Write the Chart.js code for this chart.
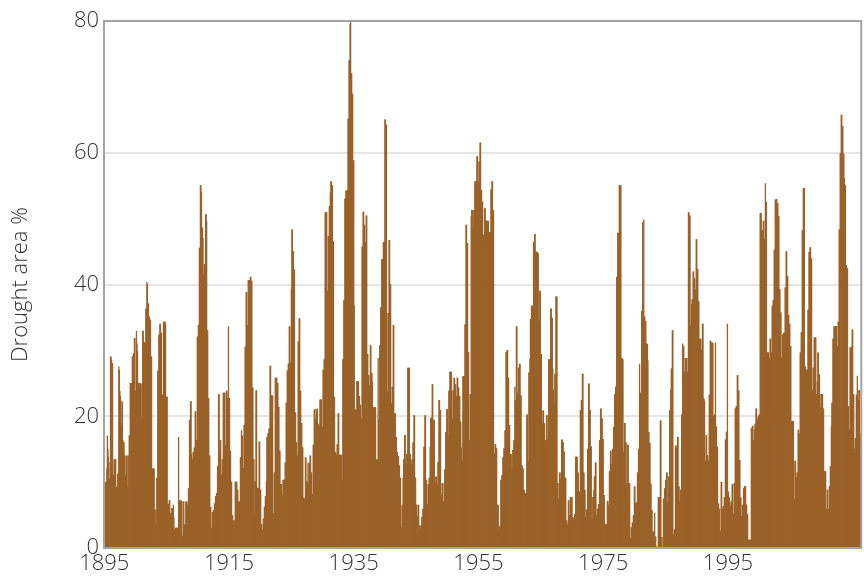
<!DOCTYPE html>
<html><head><meta charset="utf-8">
<script src="https://cdn.jsdelivr.net/npm/chart.js@4.4.1/dist/chart.umd.min.js"></script>
<style>html,body{margin:0;padding:0;background:#fff}canvas{display:block}</style>
</head><body>
<canvas id="c" width="864" height="579"></canvas>
<script>
const startYear = 1895;
const tickYears = [1895, 1915, 1935, 1955, 1975, 1995];
const yTicks = [0, 20, 40, 60, 80];
const yTitle = 'Drought area %';

// Monthly drought area (%), one row per year
const drought1890s = [
9.7,9.7,10,9.7,10,12,17,15,13.8,13,10.3,10.5,
29,29,28.5,28,28,11,11,13.4,13.4,13.4,13.4,9.2,
9.2,9.2,11.2,11.2,27.5,27,23.8,23,19,18.5,22.3,22,
16.3,16,16,14,14,11,11,14,14,9.2,9.2,14,
17,17,25,25,25,25,29,29,29.5,29.5,31.8,31.8];
const drought1900s = [
23.8,23.8,32.9,31,29.8,25,25,25,24.5,25,25,24.8,
19.8,19.8,32.9,32.9,31.2,31.2,31,31,36.3,36.3,40.3,40,
37.2,37,35.2,35,34.6,34.6,29,29,12,12,12,12,
12,5.8,5.8,3.5,3.5,10.6,10.6,26.9,26.9,32.3,32.3,34,
34,32.6,32.6,23.2,23.2,22.6,34.3,34.3,34.3,34.3,34,22.9,
22.9,22.9,6.6,6.6,6.6,7.2,7.2,5.2,5.2,5.2,6,6,
3.9,6.5,4.5,2.8,2.8,3,3,3,3,3,3,16.8,
7.2,7,7.2,7,7.2,7,1.8,1.8,7,7,3.5,3.5,
3.5,7,7,7,6.5,6.5,9,9,19.4,19.4,22.2,22.2,
14.2,13.4,13.4,14.5,14.5,15.2,15.2,20.7,20.7,16.3,16.3,32];
const drought1910s = [
32,33.8,33.8,45.5,45.5,55,55,54,48.6,48.6,47,41.6,
41.6,43,43,50.6,50.6,49.6,33,33,22.7,22.7,14,14,
6.2,6.2,3,3,5.4,5.4,5.7,5.7,6.7,6.7,7.8,7.8,
8.3,8.3,12.4,12.4,23.3,23.3,14.7,16.3,16.3,11.1,11.1,13.4,
13.4,23.5,23.5,23.5,23.5,15.5,15.5,23.8,23.8,22.7,22.7,33.6,
22.7,22.7,14.7,14.7,10,10,4.9,4.9,4.1,4.1,4.1,4.1,
10,10,10,10,8.8,8.8,7,7,7,7,13.7,13.7,
17.8,17,17,12.1,12.1,18.6,18.6,30.5,30.5,38.8,38.8,33.8,
33.8,40.6,40.6,40.6,40.6,41.1,41.1,40.5,40.5,24.3,24.3,13.4,
13.4,4.9,10.1,10.1,23.9,23.9,9.1,9.1,9,9,16.1,16.1];
const drought1920s = [
8.8,8.8,3.6,3.6,2.8,2.8,4.4,4.4,6.2,6.2,7.8,7.8,
10.1,16.8,16.8,17.4,17.4,18.1,18.1,27.6,27.6,23.1,23.1,23.1,
23.1,5.2,5.2,11.4,11.4,25.8,25.8,25.8,25.8,25,25,21.4,
21.4,14.7,14.7,9.6,9.6,9.6,8,8,10.3,10.3,10.3,10.3,
12.9,12.9,22,22,26.9,26.9,27.9,27.9,33.6,33.6,28.1,28.1,
39.3,48.3,48.3,45,45,42.2,42.2,20.5,20.5,16,16,14,
14,31.3,31.3,34.8,34.8,23.8,23.8,18.9,18.9,15.2,15.2,7.6,
7.6,7.4,7.4,13.7,13.7,10.1,10.1,9.8,12.9,9.8,12.8,12.8,
14,14,11.4,11.4,8.1,8.1,15.6,15.6,21,21,19.6,19.6,
21,21,21.1,18.8,18.8,18.5,18.5,22.5,22.5,22.5,22.5,18.3];
const drought1930s = [
18.3,27,27,28.6,28.6,50.9,50.9,50.9,50.9,39,39,47.3,
47.3,51.8,51.8,53.9,55.6,55.6,55,55,46.5,46.5,22.9,22.9,
14.5,14.5,14.1,14.1,15.7,15.7,20.4,20.4,14.1,14.1,14.1,14.1,
14.1,10.3,10.3,28.6,28.6,37.6,37.6,53,53,54.2,54.2,54.2,
54.2,65.1,65.1,74,74,79.5,80,72,72,68.9,68.9,58.8,
58.8,36.8,21,21,20.8,20.8,25.3,25.3,25.3,25.3,23,23,
21.7,21.7,19.6,19.6,45.7,45.7,51,51,49,49,46.4,46.4,
50.4,50.4,29.4,29.4,26.2,26.2,24.6,24.6,30.7,30.7,26.5,26.5,
25.2,21.3,21.3,21.3,21.3,21.3,21.3,6.2,13.4,13.4,13.4,28.8,
19.4,19.4,30.7,30.7,36.5,36.5,43.8,43.8,43.8,46.4,46.4,46.4];
const drought1940s = [
65,65,64.2,64.2,23.7,23.7,35.6,35.6,46.7,46.7,40,40,
21.9,21.9,24.4,24.4,33.8,33.8,20.4,20.4,20.4,16.8,16.8,14.5,
14.5,13.9,13.9,12.5,12.5,10.6,10.6,3.1,3.1,6.5,6.5,10.6,
13.4,13.4,17.1,17.1,12.6,12.6,14.2,14.2,27.3,27.3,27.3,27.3,
14.2,14.2,12.6,12.6,13.4,13.4,16,16,20.1,20.1,10.6,10.6,
6.5,6.5,4.8,4.8,6.5,6.5,3.4,2.8,2.8,3.4,3.4,4.7,
4.7,5.9,5.9,15.3,15.3,20.1,20.1,10.3,10.3,6.6,6.6,9.6,
9.6,10.6,10.6,15.3,19.7,19.7,19.7,24.8,24.8,16.3,19.4,19.4,
9.8,9.8,10.8,10.8,9.6,9.6,13,13,22.4,22.4,20.9,20.9,
8,8,9.8,9.8,7,7,9.8,11.9,11.9,17.5,17.5,21];
const drought1950s = [
21,17.1,17.1,23.8,23.8,26.7,26.7,26.7,26.7,19.6,19.6,23.9,
23.9,25.8,25.8,24.8,24.8,23,23,25.8,25.8,24.3,24.3,23,
23,19.1,19.1,15.2,13.2,13.2,26,26,26,26,33.9,33.9,
49,49,46.2,46.2,29.7,29.7,16.3,16.3,23.3,23.3,50.3,51.3,
51.3,48.5,48.5,51.2,51.2,55.6,55.6,55.6,55.6,59.4,59.4,55.6,
55.6,58.6,58.6,61.5,61.5,54.3,54.3,52.5,52.5,47.5,47.5,46.2,
51.5,51.5,49.6,49.6,49.6,49.6,49.6,49.6,47.9,47.9,47.9,47.9,
54.4,54.4,55.6,55.6,51.2,51.2,14.2,14.2,15.7,15.7,15.1,15.1,
6.5,6.5,6.5,2.8,2.8,3.3,3.3,10.3,10.3,11,11,13.7,
13.7,15.1,15.1,17.8,17.8,29.7,29.7,30,30,25.8,25.8,18.6];
const drought1960s = [
18.6,14.2,14.2,14.2,12.1,12.1,14.8,14.8,16.3,16.3,24.4,22.4,
22.4,33.6,33.6,23.5,23.5,27.3,27.3,27.9,27.9,23.1,23.1,12.5,
12.5,12,12,8.8,8.8,8.3,8.3,8.3,8.3,20.2,20.2,13.1,
13.1,26.6,26.6,28.7,34.7,34.7,36.7,36.7,36.7,36.7,46.4,46.4,
47.6,47.6,44.9,44.9,44.9,44.9,44.7,44.7,34.4,34.4,39,39,
29.4,29.4,18.9,18.9,20.8,20.8,18.9,18.9,16.3,16.3,16.3,20.1,
20.1,16.5,16.5,28.6,28.6,28.6,28.6,36.3,36.3,34.9,34.9,27.2,
24,21.7,21.7,26.4,26.4,38.1,38.1,38.1,9.8,9.8,7.4,7.4,
11.4,11.4,10.5,10.5,16.4,16.4,16,16,14.6,14.6,10.6,10.6,
10.6,4.1,4.1,3.5,3.5,7.2,7.2,4.9,4.9,7.7,7.7,7.7];
const drought1970s = [
7.7,4.6,4.6,4.1,4.1,5.1,5.1,13.8,13.8,13.8,13.8,11.4,
11.4,8.5,8.5,7.1,20.9,20.9,22.4,22.4,26.4,26.4,11.4,11.4,
8.8,8.8,4.6,4.6,5.8,5.8,15,15,24.9,24.9,20.9,20.9,
15.4,15.4,4.4,4.4,7.7,7.7,8.8,10.8,10.8,12.9,12.9,4.9,
4.9,5.9,5.9,6.6,6.6,16.3,16.3,21.1,21.1,19.6,19.6,16.5,
16.5,8,8,3.5,3.5,3.6,3.6,3.6,7.1,7.1,6.5,6.5,
11.6,11.6,14.7,14.7,12.6,12.6,15,15,18.3,18.3,23.3,23.3,
24.4,24.4,41.1,41.1,47.8,47.8,46.5,55,55,55,55,28.8,
28.8,28.6,28.6,14.5,14.5,18.9,18.9,16,16,9.6,9.6,15.6,
15.6,9.8,9.8,9.8,1.5,1.5,3.1,3.1,3.8,3.8,4.9,4.9];
const drought1980s = [
9.3,9.3,6.8,6.8,6.9,6.9,11.4,11.4,15,15,27.9,23.5,
23.5,23.5,35.9,35.9,49.4,49.4,49.8,35.1,35.1,34.4,34.4,31,
31,30.9,28.4,17.5,17.5,15.9,15.9,9.7,9.7,5.7,5.7,2.3,
2.3,2.5,2.5,5.3,1.7,1.7,0.1,0.1,0,0,7.7,7.7,
7.7,7.7,19.3,19.3,1.6,1.6,0,0,7.4,7.4,9,9,
10.3,10.3,11.4,11.4,6.7,6.7,10.8,10.8,20.9,20.9,24,27.2,
27.2,33,33,2,2,2.8,2.8,15.5,15.5,15.2,15.2,16.8,
16.8,9.3,9.3,7,7,8.8,8.8,20.2,20.2,31,30.6,30.6,
26.7,26.7,28.8,28.8,28.8,28.8,26.7,26.7,50.9,50.9,50.4,50.4,
33.7,33.7,37,37.7,37.7,41.9,41.9,40.9,40.9,39.2,39.2,46.8];
const drought1990s = [
46.8,42.3,42.3,37.4,37.4,31.7,31.7,31.7,31.7,30,30,34,
34,22.6,22.6,22.3,13.2,13.2,17.1,17.1,14,14,13.2,13.2,
23.2,23.2,31.4,31.4,31.1,31.1,31.1,31.1,20,20,20.2,20.2,
31.1,18.4,18.4,15.3,15.3,6.7,6.7,5.9,5.9,2.5,2.5,10,
10,5.9,5.9,6.3,6.3,7.7,7.7,16.4,16.4,17.6,17.6,34,
8.5,8.5,7.6,7.6,6.4,6.4,7,7,9.6,9.6,5.2,5.2,
9.8,9.8,21.1,21.1,21.5,21.5,26.2,26.2,23.9,23.9,13.3,13.3,
7.6,7.6,4.8,4.8,6.5,6.5,9,9,9.3,9.3,9.3,6.5,
6.5,5.1,5.1,1.2,1.2,1.2,1.2,1.2,1.2,18.1,18.1,18.5,
18.5,16.3,16.3,17.9,18.8,18.8,21.1,21.1,19.4,19.4,19.9,19.9];
const drought2000s = [
20.2,20.2,50.8,50.8,50.8,48.2,48.2,48.2,49.6,49.6,46.8,46.8,
55.3,52.5,52.5,29.6,29.6,29.6,29.6,28.8,28.8,31.7,31.7,29.6,
29.6,36.7,36.7,37.6,37.6,45.2,45.2,52.8,52.8,52.9,52.9,52.3,
52.3,50.3,50.3,39.2,39.2,35.7,35.7,28.8,28.8,32.4,28.8,32.6,
32.6,32.6,39.5,39.5,45,45,41.2,41.2,35.3,35.3,34,34,
30.6,30.6,19.2,19.2,19.2,19.2,19.2,7.4,7.4,13.2,13.2,10.6,
10.6,11.4,11.4,17.9,17.9,17.4,17.4,29.6,29.6,32.7,32.7,48.2,
48.2,54.6,54.6,54.6,27.5,27.5,27,27,27,27,36.1,36.1,
44.9,44.9,45.6,45.6,43.9,43.9,23.9,23.9,27.3,27.3,31.9,31.9,
31.9,31.9,23.3,23.3,25.2,29.6,29.6,26.3,26.3,21.3,21.3,23.3];
const drought2010s = [
23.3,23.3,23.3,21.1,21.1,11.6,11.6,11.6,11.6,5.9,5.9,8.8,
8.8,5.9,5.9,9.3,9.3,12.4,12.4,18.4,22,22,31.7,31.7,
33.6,33.6,33.6,33.6,33.6,33.6,30.6,30.6,34.3,34.3,48.3,48.3,
59.9,59.9,65.7,65.7,64,64,59.8,59.8,56.1,55.1,55.1,42.9,
42.9,42.4,42.4,21.5,21.5,17.9,17.9,30.4,30.4,30.5,30.5,33.1,
33.1,23.3,23.3,15,15,16.6,16.6,23.2,23.2,26.1,22.4,22.4,
23.9,23.9,17.4,17.4,17.4];

const values = [].concat(drought1890s, drought1900s, drought1910s, drought1920s,
  drought1930s, drought1940s, drought1950s, drought1960s, drought1970s,
  drought1980s, drought1990s, drought2000s, drought2010s);
const labels = values.map((v, i) => startYear + Math.floor(i / 12));

const FONT = "'Open Sans', 'Liberation Sans', sans-serif";
const TEXT = '#333333';

const framePlugin = {
  id: 'frame',
  afterDatasetsDraw(chart) {
    const { ctx, chartArea: a } = chart;
    ctx.save();
    ctx.strokeStyle = '#a3a3a3';
    ctx.lineWidth = 2;
    ctx.strokeRect(a.left, a.top, a.right - a.left, a.bottom - a.top);
    ctx.restore();
  }
};

function draw() {
  new Chart(document.getElementById('c'), {
    type: 'bar',
    data: {
      labels: labels,
      datasets: [{
        data: values,
        backgroundColor: '#9a6229',
        borderWidth: 0,
        barPercentage: 1,
        categoryPercentage: 1,
        inflateAmount: 0.4
      }]
    },
    options: {
      responsive: false,
      animation: false,
      events: [],
      layout: { padding: { left: 0, right: 1, top: 21, bottom: 0 } },
      plugins: { legend: { display: false }, tooltip: { enabled: false } },
      scales: {
        x: {
          grid: { display: false, drawTicks: false },
          border: { display: false },
          ticks: {
            autoSkip: false, maxRotation: 0, minRotation: 0, padding: 3,
            font: { family: FONT, size: 22, weight: '300' }, color: TEXT,
            callback: (val, idx) => (idx % 12 === 0 && tickYears.includes(labels[idx])) ? String(labels[idx]) : ''
          },
          afterFit: s => { s.height = 31; }
        },
        y: {
          min: 0, max: 80,
          afterBuildTicks: s => { s.ticks = yTicks.map(v => ({ value: v })); },
          grid: { color: '#e5e5e5', lineWidth: 2, drawTicks: false },
          border: { display: false },
          ticks: { padding: 5, font: { family: FONT, size: 22, weight: '300' }, color: TEXT },
          title: { display: true, text: yTitle, color: TEXT,
                   font: { family: FONT, size: 22, weight: '300' }, padding: { top: 8, bottom: 0 } },
          afterFit: s => { s.width = 104; }
        }
      }
    },
    plugins: [framePlugin]
  });
}
if (document.fonts && document.fonts.load) {
  document.fonts.load("300 22px 'Open Sans'").then(draw, draw);
} else { draw(); }
</script>
</body></html>
